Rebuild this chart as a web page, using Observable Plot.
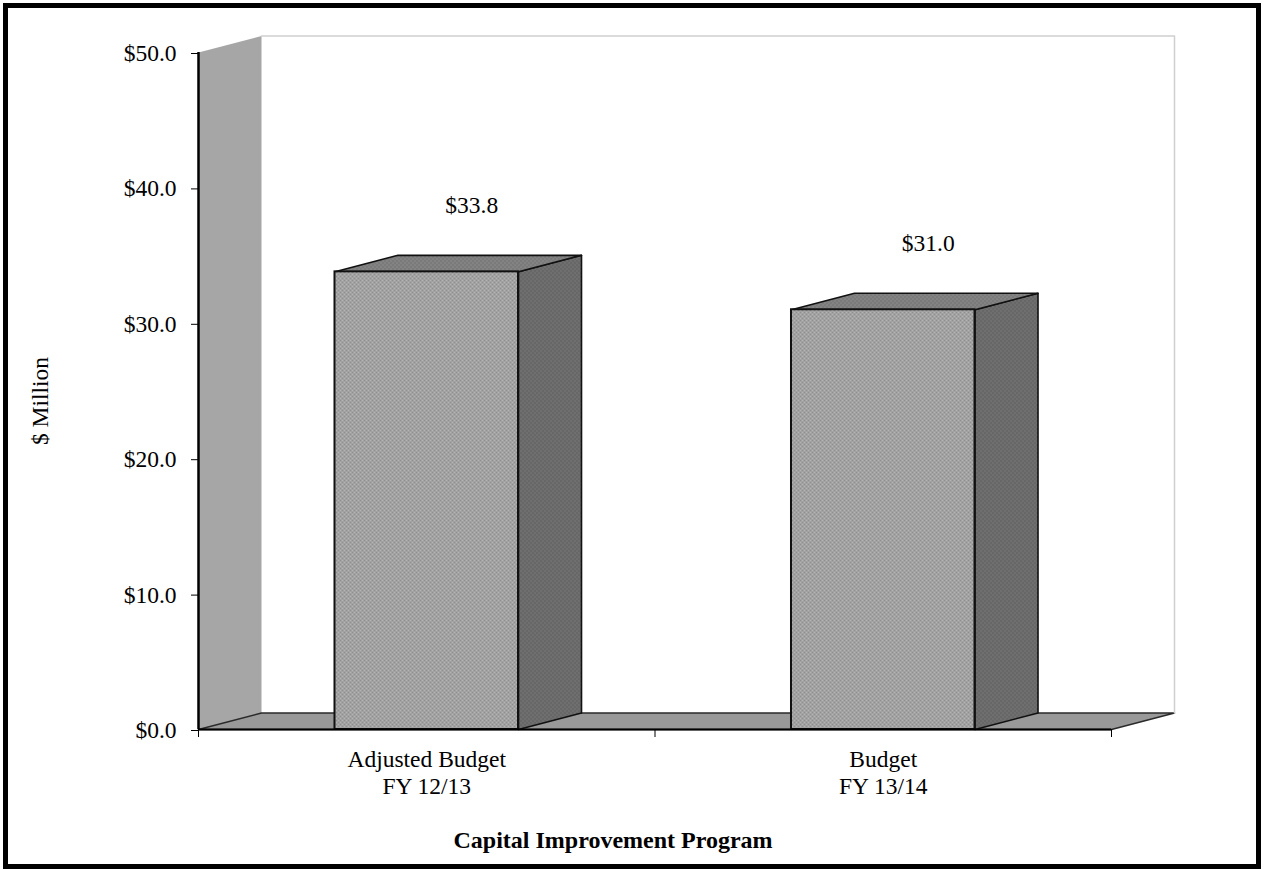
<!DOCTYPE html>
<html>
<head>
<meta charset="utf-8">
<script src="https://cdn.jsdelivr.net/npm/d3@7"></script>
<script src="https://cdn.jsdelivr.net/npm/@observablehq/plot@0.6"></script>
<style>
  html, body { margin: 0; padding: 0; background: #fff; overflow: hidden; }
  #wrap { position: relative; width: 1271px; height: 870px; }
  #frame { position: absolute; left: 3px; top: 3px; width: 1258px; height: 866px;
           border: 5px solid #000; box-sizing: border-box; pointer-events: none; }
</style>
</head>
<body>
<div id="wrap"><div id="frame"></div></div>
<script>
// Capital Improvement Program, $ million
const categories = ["Adjusted Budget\nFY 12/13", "Budget\nFY 13/14"];
const values = [33.8, 31.0];
const valueLabels = values.map(v => "$" + v.toFixed(1));
const yTicks = [0, 10, 20, 30, 40, 50];
const xTitle = "Capital Improvement Program";
const yTitle = "$ Million";

// Layout
const W = 1271, H = 870;
const M = {top: 52, right: 160, bottom: 141, left: 198};
const Y_DOMAIN = [0, 50];
const X_DOMAIN = [0, categories.length];
const BAR_HALF = 0.201;          // half bar width, in category units
const DEPTH_PX = [63, 16.5];     // oblique depth of the 3-D box, in pixels

// Convert the pixel depth into data units so every shape goes through the scales
const ux = (X_DOMAIN[1] - X_DOMAIN[0]) / (W - M.left - M.right);
const uy = (Y_DOMAIN[1] - Y_DOMAIN[0]) / (H - M.top - M.bottom);
const dX = DEPTH_PX[0] * ux;
const dY = DEPTH_PX[1] * uy;
const xMax = X_DOMAIN[1], yMax = Y_DOMAIN[1];

const poly = (pts, key) => [...pts, pts[0]].map(([x, y]) => ({x, y, key}));

const wall = poly([[0, 0], [0, yMax], [dX, yMax + dY], [dX, dY]], "wall");
const floor = poly([[0, 0], [dX, dY], [xMax + dX, dY], [xMax, 0]], "floor");
const backEdge = [[dX, yMax + dY], [xMax + dX, yMax + dY], [xMax + dX, dY]].map(([x, y]) => ({x, y}));

const bars = values.map((v, i) => {
  const c = i + 0.5;
  return {i, v, x0: c - BAR_HALF, x1: c + BAR_HALF};
});
const sides = bars.flatMap(b =>
  poly([[b.x1, 0], [b.x1, b.v], [b.x1 + dX, b.v + dY], [b.x1 + dX, dY]], "s" + b.i));
const tops = bars.flatMap(b =>
  poly([[b.x0, b.v], [b.x1, b.v], [b.x1 + dX, b.v + dY], [b.x0 + dX, b.v + dY]], "t" + b.i));

const plot = Plot.plot({
  width: W,
  height: H,
  marginTop: M.top, marginRight: M.right, marginBottom: M.bottom, marginLeft: M.left,
  style: {fontFamily: "'Liberation Serif', 'Times New Roman', serif", fontSize: "23.5px", color: "#000", background: "#fff"},
  x: {domain: X_DOMAIN},
  y: {domain: Y_DOMAIN},
  marks: [
    // left wall and floor
    Plot.line(wall, {x: "x", y: "y", z: "key", fill: "#a6a6a6", stroke: "none"}),
    Plot.line(floor, {x: "x", y: "y", z: "key", fill: "#999999", stroke: "#2a2a2a", strokeWidth: 1.5}),
    Plot.line(backEdge, {x: "x", y: "y", stroke: "#cfcfcf", strokeWidth: 1.5}),
    // bars: side, top, front
    Plot.line(sides, {x: "x", y: "y", z: "key", fill: "url(#tex-side)", stroke: "#111", strokeWidth: 1.6, strokeLinejoin: "round"}),
    Plot.line(tops, {x: "x", y: "y", z: "key", fill: "url(#tex-top)", stroke: "#111", strokeWidth: 1.6, strokeLinejoin: "round"}),
    Plot.rect(bars, {x1: "x0", x2: "x1", y1: 0, y2: "v", fill: "url(#tex-front)", stroke: "#111", strokeWidth: 2}),
    // axes
    Plot.ruleX([0], {y1: 0, y2: yMax, stroke: "#000", strokeWidth: 2.5}),
    Plot.ruleY([0], {x1: 0, x2: xMax, stroke: "#000", strokeWidth: 2}),
    Plot.axisY(yTicks, {tickSize: 7, tickPadding: 15, tickFormat: d => "$" + d.toFixed(1), fontSize: 23.5, label: null, stroke: "#000", dy: 1}),
    Plot.axisX([0, 1, 2], {tickSize: 8, tickFormat: () => "", label: null, stroke: "#000"}),
    // category labels
    Plot.text(categories, {x: (d, i) => i + 0.5, y: 0, text: d => d, lineAnchor: "top", dy: 18, lineHeight: 1.15, fontSize: 23.5}),
    // value labels
    Plot.text(values, {x: (d, i) => i + 0.5, y: d => d, text: (d, i) => valueLabels[i], dx: 45, dy: -66, fontSize: 23.5}),
    // axis titles
    Plot.text([xTitle], {frameAnchor: "bottom", text: d => d, textAnchor: "middle", dx: -42, dy: 118, fontWeight: "bold", fontSize: 24}),
    Plot.text([yTitle], {frameAnchor: "left", text: d => d, textAnchor: "middle", rotate: -90, dx: -158, dy: 10, fontSize: 23.5})
  ]
});

// Fine dithered textures for the bar faces
const defs = d3.select(plot).insert("defs", ":first-child");
function texture(id, base, dark, light) {
  const p = defs.append("pattern").attr("id", id).attr("patternUnits", "userSpaceOnUse")
    .attr("width", 4).attr("height", 4);
  p.append("rect").attr("width", 4).attr("height", 4).attr("fill", base);
  p.append("rect").attr("x", 0).attr("y", 0).attr("width", 1).attr("height", 1).attr("fill", dark);
  p.append("rect").attr("x", 2).attr("y", 2).attr("width", 1).attr("height", 1).attr("fill", dark);
  p.append("rect").attr("x", 2).attr("y", 0).attr("width", 1).attr("height", 1).attr("fill", light);
  p.append("rect").attr("x", 0).attr("y", 2).attr("width", 1).attr("height", 1).attr("fill", light);
}
texture("tex-front", "#a2a2a2", "#8e8e8e", "#b4b4b4");
texture("tex-side", "#6b6b6b", "#5a5a5a", "#7c7c7c");
texture("tex-top", "#7e7e7e", "#6c6c6c", "#909090");

document.getElementById("wrap").prepend(plot);
</script>
</body>
</html>
